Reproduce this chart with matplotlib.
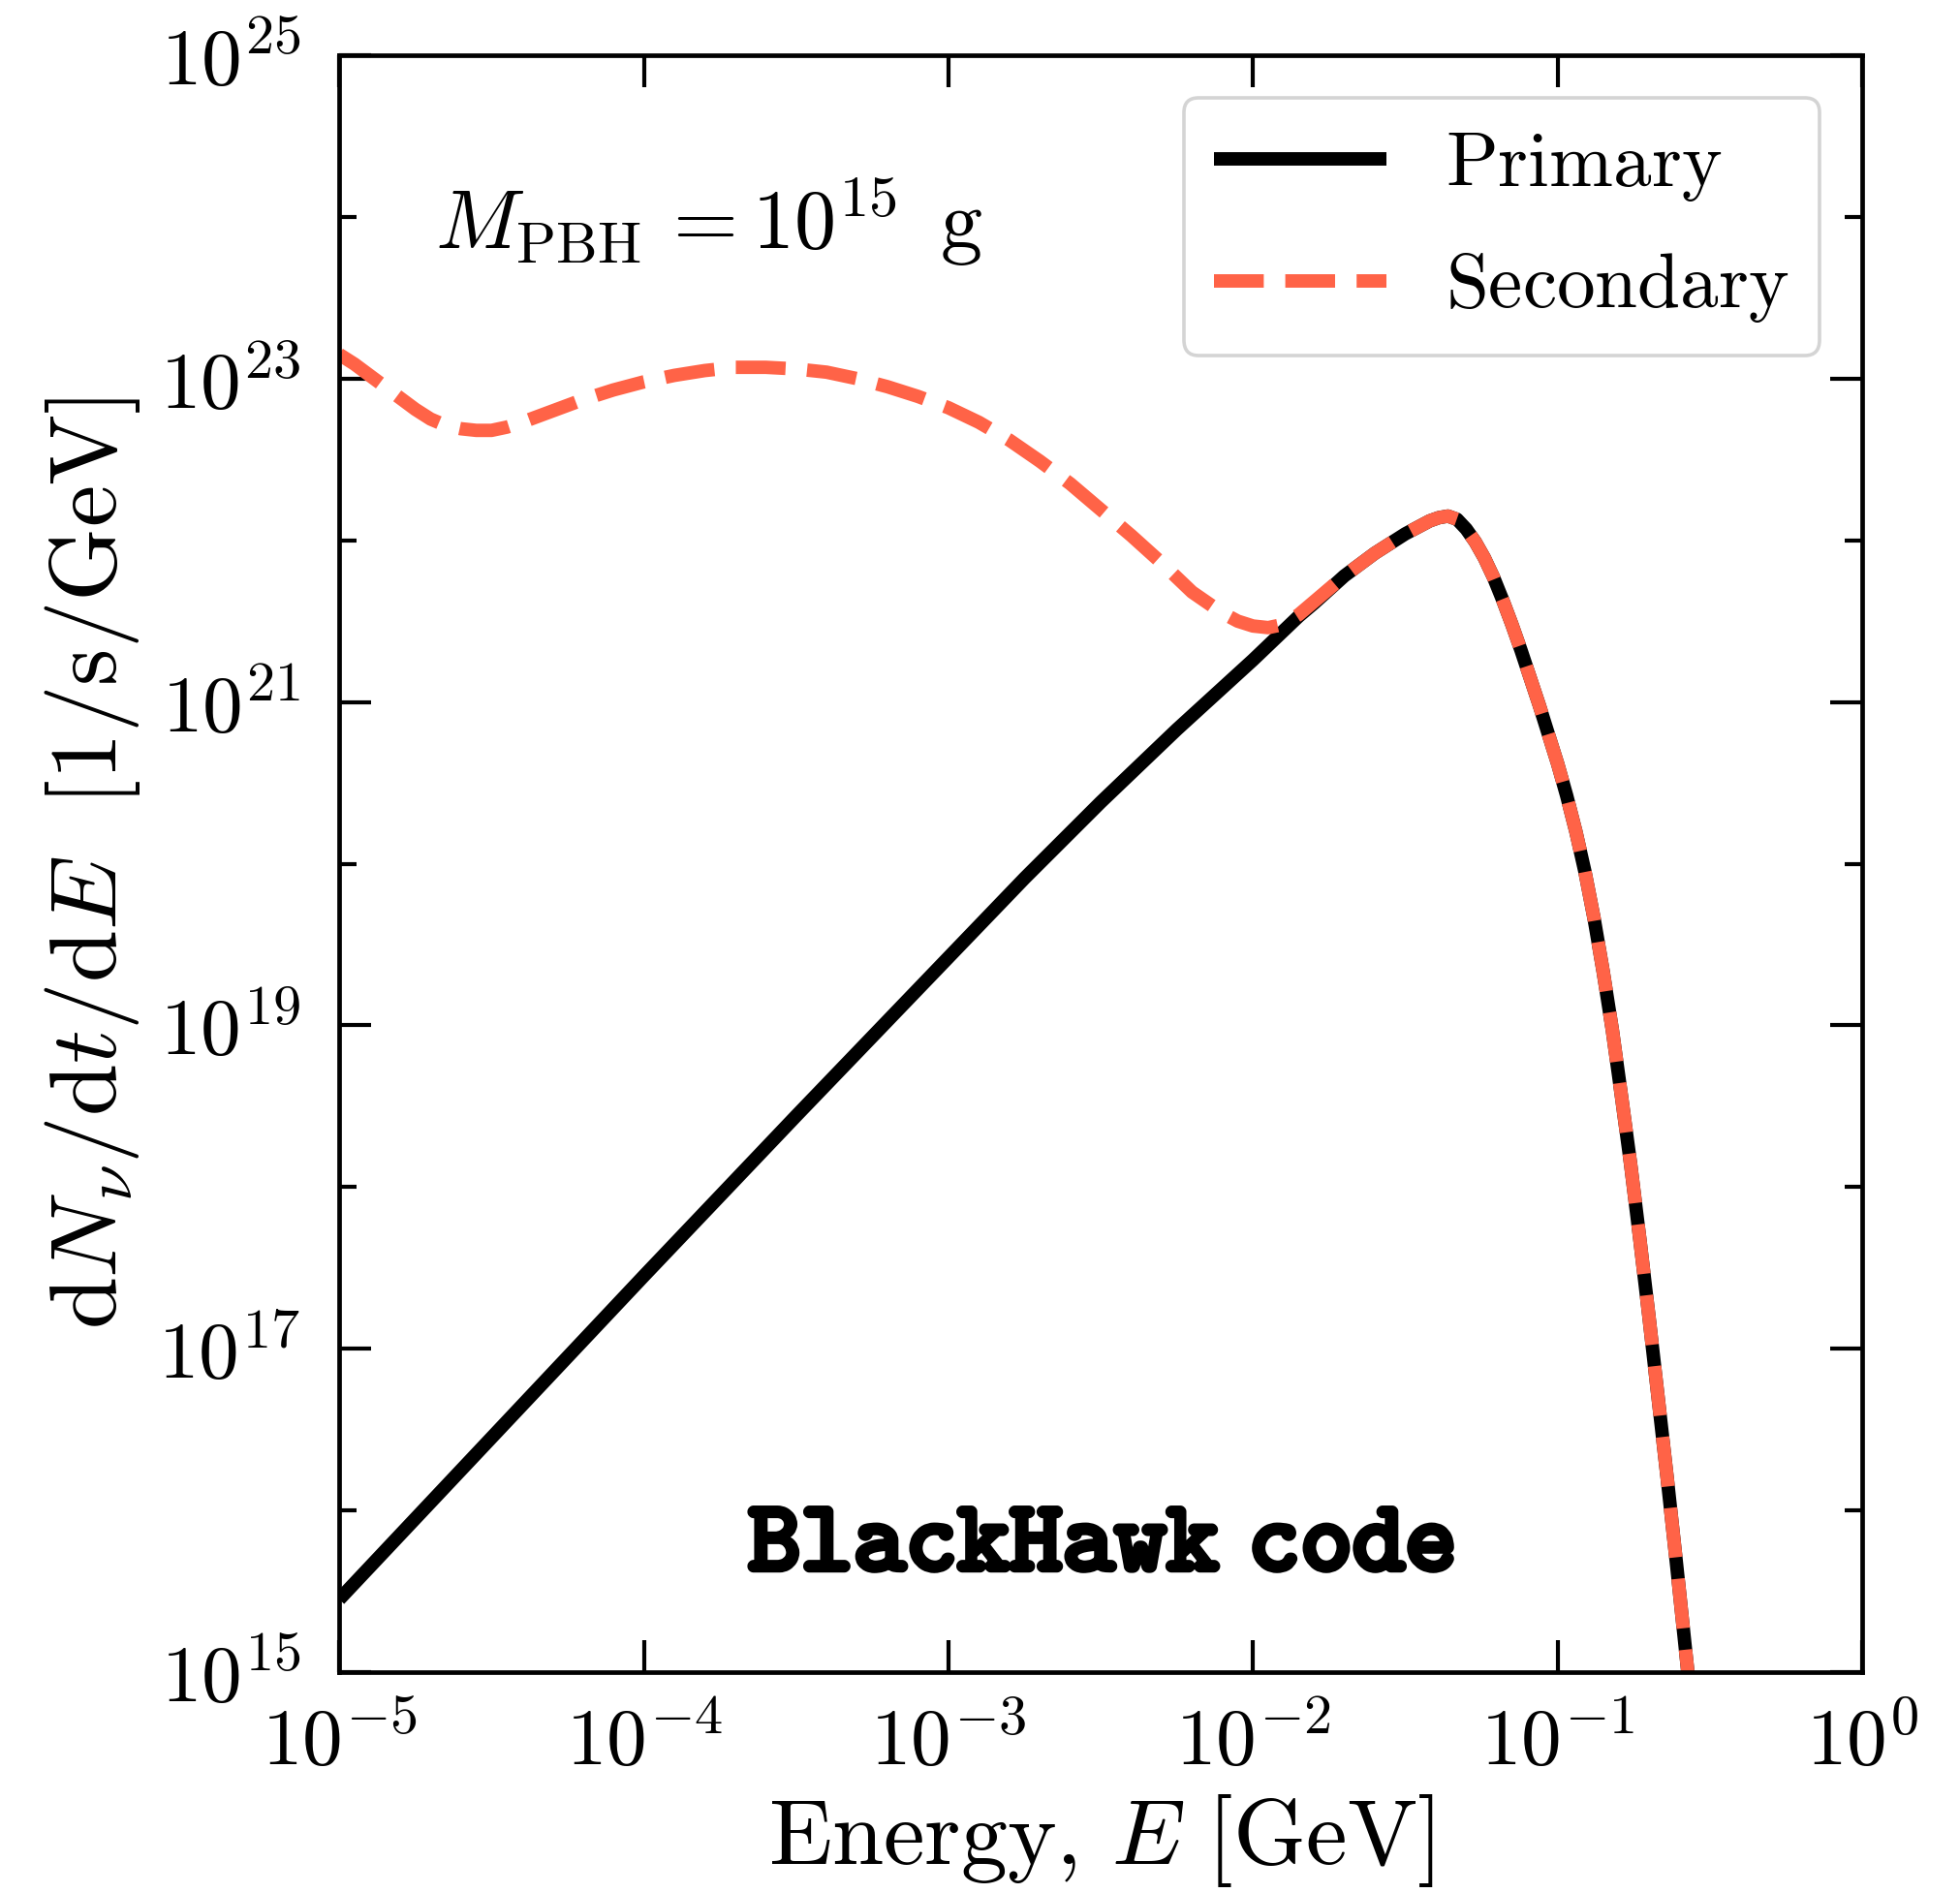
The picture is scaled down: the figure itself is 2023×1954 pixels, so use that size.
import numpy as np
import matplotlib
matplotlib.use("Agg")
import matplotlib.pyplot as plt
from matplotlib.ticker import FixedLocator, FuncFormatter, NullFormatter
import matplotlib.patheffects as pe

plt.rcParams['mathtext.fontset'] = 'cm'
plt.rcParams['font.family'] = ['DejaVu Serif']
plt.rcParams['axes.unicode_minus'] = True

# ---- data (log10 values) ----
primary_log_E = [-5.0, -4.5, -4.0, -3.5, -3.0, -2.75, -2.5, -2.25, -2.0, -1.85, -1.8, -1.7,
                 -1.6, -1.5, -1.45, -1.42, -1.39, -1.36, -1.33, -1.30, -1.27,
                 -1.24, -1.21, -1.18, -1.15, -1.12, -1.09, -1.06, -1.03, -1.0, -0.97,
                 -0.94, -0.91, -0.88, -0.85, -0.82, -0.79, -0.76, -0.73, -0.70, -0.67,
                 -0.64, -0.61, -0.58, -0.55]
primary_log_F = [15.45, 16.45, 17.45, 18.44, 19.42, 19.91, 20.38, 20.83, 21.26, 21.53, 21.61, 21.78,
                 21.92, 22.04, 22.09, 22.12, 22.14, 22.15, 22.13, 22.07, 21.99,
                 21.89, 21.77, 21.63, 21.48, 21.32, 21.15, 20.98, 20.80, 20.62, 20.42,
                 20.20, 19.95, 19.66, 19.33, 18.97, 18.56, 18.14, 17.68, 17.20, 16.70,
                 16.20, 15.68, 15.14, 14.60]

secondary_log_E = [-5.0, -4.95, -4.9, -4.85, -4.8, -4.75, -4.7, -4.65, -4.6, -4.55, -4.5,
                   -4.45, -4.4, -4.3, -4.2, -4.1, -4.0, -3.9, -3.8, -3.7, -3.6, -3.5,
                   -3.4, -3.3, -3.2, -3.1, -3.0, -2.9, -2.8, -2.7, -2.6, -2.5, -2.4,
                   -2.3, -2.2, -2.1, -2.05, -2.0, -1.95, -1.9, -1.85, -1.8, -1.7,
                   -1.6, -1.5, -1.45, -1.42, -1.39, -1.36, -1.33, -1.30, -1.27,
                   -1.24, -1.21, -1.18, -1.15, -1.12, -1.09, -1.06, -1.03, -1.0, -0.97,
                   -0.94, -0.91, -0.88, -0.85, -0.82, -0.79, -0.76, -0.73, -0.70, -0.67,
                   -0.64, -0.61, -0.58, -0.55]
secondary_log_F = [23.15, 23.09, 23.02, 22.95, 22.88, 22.81, 22.75, 22.71, 22.69, 22.68, 22.68,
                   22.70, 22.73, 22.80, 22.87, 22.93, 22.98, 23.02, 23.05, 23.07, 23.07, 23.06,
                   23.04, 23.00, 22.95, 22.89, 22.82, 22.73, 22.62, 22.49, 22.35, 22.19, 22.03,
                   21.86, 21.68, 21.55, 21.50, 21.47, 21.46, 21.48, 21.54, 21.62, 21.78,
                   21.92, 22.04, 22.09, 22.12, 22.14, 22.15, 22.13, 22.07, 21.99,
                   21.89, 21.77, 21.63, 21.48, 21.32, 21.15, 20.98, 20.80, 20.62, 20.42,
                   20.20, 19.95, 19.66, 19.33, 18.97, 18.56, 18.14, 17.68, 17.20, 16.70,
                   16.20, 15.68, 15.14, 14.60]

x_tick_exps = [-5, -4, -3, -2, -1, 0]
y_major_exps = [15, 17, 19, 21, 23, 25]
y_minor_exps = [16, 18, 20, 22, 24]

E_p = 10.0 ** np.array(primary_log_E)
F_p = 10.0 ** np.array(primary_log_F)
E_s = 10.0 ** np.array(secondary_log_E)
F_s = 10.0 ** np.array(secondary_log_F)

fig = plt.figure(figsize=(10.12, 9.77), dpi=200)
ax = fig.add_axes([0.173, 0.1167, 0.7766, 0.8541])

ax.plot(E_p, F_p, color='black', lw=5, solid_capstyle='butt', solid_joinstyle='round',
        label=r'$\mathrm{Primary}$')
ax.plot(E_s, F_s, color='tomato', lw=5, ls='--', dash_joinstyle='round',
        label=r'$\mathrm{Secondary}$')

ax.set_xscale('log')
ax.set_yscale('log')
ax.set_xlim(1e-5, 1e0)
ax.set_ylim(1e15, 1e25)

ax.xaxis.set_major_locator(FixedLocator([10.0 ** e for e in x_tick_exps]))
ax.xaxis.set_minor_locator(FixedLocator([]))
ax.yaxis.set_major_locator(FixedLocator([10.0 ** e for e in y_major_exps]))
ax.yaxis.set_minor_locator(FixedLocator([10.0 ** e for e in y_minor_exps]))
fmt = FuncFormatter(lambda v, p: r'$10^{%d}$' % int(round(np.log10(v))))
ax.xaxis.set_major_formatter(fmt)
ax.yaxis.set_major_formatter(fmt)
ax.yaxis.set_minor_formatter(NullFormatter())

ax.tick_params(which='both', direction='in', top=True, right=True, width=1.5)
ax.tick_params(which='major', length=12, labelsize=30)
ax.tick_params(axis='x', which='major', pad=12)
ax.tick_params(axis='y', which='major', pad=14.5)
ax.tick_params(which='minor', length=6.5)
for s in ax.spines.values():
    s.set_linewidth(1.7)

ax.set_xlabel(r'$\mathrm{Energy},\,E\ [\mathrm{GeV}]$', fontsize=34.5, labelpad=4)
ax.set_ylabel(r'$\mathrm{d}N_\nu/\mathrm{d}t/\mathrm{d}E\ \ [1/\mathrm{s}/\mathrm{GeV}]$',
              fontsize=35, labelpad=6)

ax.text(0.063, 0.88, r'$M_{\rm PBH}\,= 10^{15}\ \,{\rm g}$', transform=ax.transAxes,
        fontsize=31, ha='left', va='baseline')
t = ax.text(0.5, 0.08, r'$\mathtt{BlackHawk\ code}$', transform=ax.transAxes,
            fontsize=37, ha='center', va='center')
t.set_path_effects([pe.withStroke(linewidth=2.3, foreground='black')])

leg = ax.legend(loc='upper right', fontsize=28.5, handlelength=2.25, handletextpad=0.77,
                borderpad=0.4, borderaxespad=0.55, labelspacing=0.6, fancybox=True,
                framealpha=1, edgecolor='#d4d4d4')
leg.get_frame().set_linewidth(1.3)

fig.savefig('out.png', dpi=200)
